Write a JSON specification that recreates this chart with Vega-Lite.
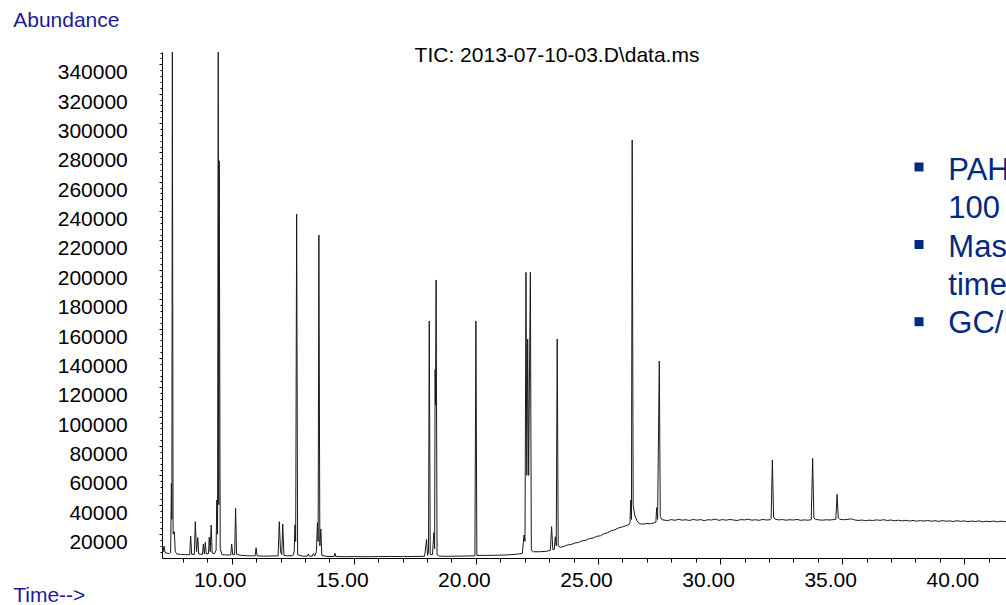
{
  "$schema": "https://vega.github.io/schema/vega-lite/v6.json",
  "width": 844,
  "height": 506,
  "autosize": {"type": "none"},
  "padding": {"left": 162, "top": 52, "right": 0, "bottom": 47},
  "background": "white",
  "config": {"view": {"stroke": null}, "font": "Liberation Sans"},
  "title": {"text": "TIC: 2013-07-10-03.D\\data.ms", "anchor": "middle", "frame": "group", "orient": "top", "baseline": "alphabetic", "offset": -73.6, "dx": -27, "font": "Liberation Sans", "fontSize": 21, "fontWeight": "normal", "color": "black"},
  "encoding": {
    "x": {"field": "t", "type": "quantitative",
      "scale": {"domain": [7.146, 41.707], "nice": false, "zero": false},
      "axis": {"values": [8,9,10,11,12,13,14,15,16,17,18,19,20,21,22,23,24,25,26,27,28,29,30,31,32,33,34,35,36,37,38,39,40,41],
        "format": ".2f", "labelExpr": "datum.value % 5 === 0 ? datum.label : ''",
        "labelFont": "Liberation Sans", "labelFontSize": 21, "labelColor": "black", "labelBaseline": "alphabetic",
        "labelPadding": 22.7, "labelOffset": -12, "labelOverlap": false, "labelFlush": false,
        "tickSize": {"condition": {"test": "datum.value % 5 === 0", "value": 6}, "value": 4},
        "tickColor": "black", "tickWidth": 1, "domainColor": "black", "domainWidth": 1, "grid": false,
        "title": "Time-->", "titleX": -149.3, "titleY": 43.7, "titleAlign": "left", "titleBaseline": "alphabetic", "titleAngle": 0,
        "titleFont": "Liberation Sans", "titleFontSize": 21, "titleFontWeight": "normal", "titleColor": "#1c1c96"}},
    "y": {"field": "a", "type": "quantitative",
      "scale": {"domain": [3740, 348370], "nice": false, "zero": false},
      "axis": {"values": [8000,12000,16000,20000,24000,28000,32000,36000,40000,44000,48000,52000,56000,60000,64000,68000,72000,76000,80000,84000,88000,92000,96000,100000,104000,108000,112000,116000,120000,124000,128000,132000,136000,140000,144000,148000,152000,156000,160000,164000,168000,172000,176000,180000,184000,188000,192000,196000,200000,204000,208000,212000,216000,220000,224000,228000,232000,236000,240000,244000,248000,252000,256000,260000,264000,268000,272000,276000,280000,284000,288000,292000,296000,300000,304000,308000,312000,316000,320000,324000,328000,332000,336000,340000,344000,348000],
        "format": "d", "labelExpr": "datum.value % 20000 === 0 ? datum.label : ''",
        "labelFont": "Liberation Sans", "labelFontSize": 21, "labelColor": "black", "labelAlign": "right", "labelBaseline": "alphabetic",
        "labelOffset": 14.5, "labelPadding": 31.7, "labelOverlap": false, "labelFlush": false,
        "tickSize": {"condition": {"test": "datum.value % 20000 === 0", "value": 3}, "value": 2},
        "tickColor": "black", "tickWidth": 1, "domainColor": "black", "domainWidth": 1, "grid": false,
        "title": "Abundance", "titleX": -149.3, "titleY": -25.3, "titleAlign": "left", "titleBaseline": "alphabetic", "titleAngle": 0,
        "titleFont": "Liberation Sans", "titleFontSize": 21, "titleFontWeight": "normal", "titleColor": "#1c1c96"}}
  },
  "layer": [
    {"data": {"values": [
      {"t":7.15,"a":9000},{"t":7.19,"a":7800},{"t":7.23,"a":11900},{"t":7.27,"a":7500},{"t":7.35,"a":7000},{"t":7.45,"a":6800},{"t":7.5,"a":7500},{"t":7.53,"a":54600},{"t":7.55,"a":30000},{"t":7.57,"a":350000},{"t":7.6,"a":20000},{"t":7.65,"a":21650},{"t":7.69,"a":8000},{"t":7.75,"a":6500},{"t":7.9,"a":6200},{"t":8.1,"a":6000},{"t":8.28,"a":6000},{"t":8.32,"a":18700},{"t":8.36,"a":6300},{"t":8.47,"a":6200},{"t":8.51,"a":28500},{"t":8.56,"a":8000},{"t":8.61,"a":17600},{"t":8.65,"a":6500},{"t":8.8,"a":6200},{"t":8.84,"a":13300},{"t":8.88,"a":6500},{"t":8.92,"a":14400},{"t":8.96,"a":6500},{"t":9.05,"a":6800},{"t":9.08,"a":17800},{"t":9.12,"a":8000},{"t":9.16,"a":26200},{"t":9.2,"a":7000},{"t":9.3,"a":6800},{"t":9.36,"a":9000},{"t":9.39,"a":43200},{"t":9.42,"a":20000},{"t":9.45,"a":350000},{"t":9.47,"a":40000},{"t":9.49,"a":274300},{"t":9.53,"a":10000},{"t":9.6,"a":6000},{"t":9.75,"a":5800},{"t":9.96,"a":5800},{"t":10.0,"a":13300},{"t":10.04,"a":6000},{"t":10.12,"a":6000},{"t":10.16,"a":37600},{"t":10.2,"a":6200},{"t":10.4,"a":5500},{"t":10.6,"a":5300},{"t":10.8,"a":5200},{"t":10.96,"a":5200},{"t":11.0,"a":10700},{"t":11.04,"a":5200},{"t":11.3,"a":5000},{"t":11.6,"a":5100},{"t":11.9,"a":5200},{"t":11.95,"a":28500},{"t":12.0,"a":8000},{"t":12.05,"a":6000},{"t":12.09,"a":26900},{"t":12.14,"a":5500},{"t":12.3,"a":5200},{"t":12.5,"a":5300},{"t":12.56,"a":8000},{"t":12.59,"a":26200},{"t":12.62,"a":15000},{"t":12.66,"a":238000},{"t":12.7,"a":6000},{"t":12.9,"a":5000},{"t":13.1,"a":5000},{"t":13.14,"a":6500},{"t":13.18,"a":5000},{"t":13.3,"a":5000},{"t":13.35,"a":6800},{"t":13.4,"a":5000},{"t":13.47,"a":8000},{"t":13.51,"a":27800},{"t":13.54,"a":15000},{"t":13.57,"a":223700},{"t":13.61,"a":12000},{"t":13.65,"a":23500},{"t":13.69,"a":5500},{"t":13.9,"a":4800},{"t":14.2,"a":4800},{"t":14.23,"a":7000},{"t":14.26,"a":4800},{"t":14.6,"a":4600},{"t":15.0,"a":4700},{"t":15.5,"a":4600},{"t":16.0,"a":4700},{"t":16.5,"a":4800},{"t":17.0,"a":4700},{"t":17.5,"a":4800},{"t":17.9,"a":4900},{"t":17.98,"a":16400},{"t":18.02,"a":5500},{"t":18.06,"a":8000},{"t":18.09,"a":165200},{"t":18.13,"a":6000},{"t":18.22,"a":6000},{"t":18.28,"a":21000},{"t":18.31,"a":10000},{"t":18.33,"a":132000},{"t":18.345,"a":108000},{"t":18.37,"a":193100},{"t":18.41,"a":6000},{"t":18.5,"a":5000},{"t":18.8,"a":4900},{"t":19.2,"a":5000},{"t":19.6,"a":5100},{"t":19.96,"a":5200},{"t":20.0,"a":165200},{"t":20.04,"a":5500},{"t":20.4,"a":5500},{"t":20.8,"a":5600},{"t":21.2,"a":5800},{"t":21.6,"a":6200},{"t":21.9,"a":6800},{"t":21.97,"a":19400},{"t":22.01,"a":15000},{"t":22.05,"a":198300},{"t":22.085,"a":60000},{"t":22.12,"a":152900},{"t":22.16,"a":60000},{"t":22.23,"a":198300},{"t":22.27,"a":9000},{"t":22.35,"a":8000},{"t":22.6,"a":8000},{"t":22.9,"a":8300},{"t":23.05,"a":9000},{"t":23.1,"a":25100},{"t":23.15,"a":9500},{"t":23.21,"a":9500},{"t":23.25,"a":18200},{"t":23.29,"a":12000},{"t":23.33,"a":152900},{"t":23.37,"a":12000},{"t":23.45,"a":11000},{"t":23.6,"a":11600},{"t":23.75,"a":12600},{"t":23.9,"a":12900},{"t":24.05,"a":14000},{"t":24.2,"a":14300},{"t":24.35,"a":15400},{"t":24.5,"a":15800},{"t":24.65,"a":17000},{"t":24.8,"a":17300},{"t":24.95,"a":18500},{"t":25.1,"a":18900},{"t":25.25,"a":20300},{"t":25.4,"a":21000},{"t":25.55,"a":22400},{"t":25.7,"a":23000},{"t":25.85,"a":24300},{"t":26.0,"a":24900},{"t":26.15,"a":25800},{"t":26.28,"a":26500},{"t":26.31,"a":28000},{"t":26.34,"a":43200},{"t":26.37,"a":30000},{"t":26.4,"a":288400},{"t":26.44,"a":40000},{"t":26.5,"a":33000},{"t":26.6,"a":29000},{"t":26.7,"a":27000},{"t":26.85,"a":26800},{"t":27.0,"a":27300},{"t":27.15,"a":27000},{"t":27.3,"a":27700},{"t":27.37,"a":28000},{"t":27.4,"a":38000},{"t":27.44,"a":30000},{"t":27.51,"a":137900},{"t":27.55,"a":32000},{"t":27.62,"a":29800},{"t":27.7,"a":29600},{"t":27.85,"a":29200},{"t":28.0,"a":29900},{"t":28.15,"a":29400},{"t":28.3,"a":30100},{"t":28.45,"a":29500},{"t":28.6,"a":29800},{"t":28.75,"a":29300},{"t":28.9,"a":30000},{"t":29.05,"a":29500},{"t":29.2,"a":29900},{"t":29.35,"a":29200},{"t":29.5,"a":29800},{"t":29.65,"a":29600},{"t":29.8,"a":30200},{"t":29.95,"a":29400},{"t":30.1,"a":29900},{"t":30.25,"a":29500},{"t":30.4,"a":30000},{"t":30.55,"a":29600},{"t":30.7,"a":29300},{"t":30.85,"a":29900},{"t":31.0,"a":29700},{"t":31.15,"a":30100},{"t":31.3,"a":29500},{"t":31.45,"a":29800},{"t":31.6,"a":29400},{"t":31.75,"a":30000},{"t":31.9,"a":29600},{"t":32.05,"a":29800},{"t":32.09,"a":30500},{"t":32.14,"a":70500},{"t":32.19,"a":31500},{"t":32.25,"a":30200},{"t":32.4,"a":29700},{"t":32.55,"a":29900},{"t":32.7,"a":29500},{"t":32.85,"a":29800},{"t":33.0,"a":29600},{"t":33.15,"a":30000},{"t":33.3,"a":29400},{"t":33.45,"a":29700},{"t":33.6,"a":29500},{"t":33.73,"a":29800},{"t":33.79,"a":71600},{"t":33.84,"a":31000},{"t":33.9,"a":30000},{"t":34.05,"a":29700},{"t":34.2,"a":29500},{"t":34.35,"a":29800},{"t":34.5,"a":29600},{"t":34.65,"a":29900},{"t":34.74,"a":30100},{"t":34.79,"a":47100},{"t":34.84,"a":31000},{"t":34.9,"a":30200},{"t":35.05,"a":29800},{"t":35.2,"a":30000},{"t":35.38,"a":30400},{"t":35.5,"a":29700},{"t":35.65,"a":29300},{"t":35.8,"a":29600},{"t":35.95,"a":29200},{"t":36.1,"a":29500},{"t":36.25,"a":29300},{"t":36.4,"a":29700},{"t":36.55,"a":29400},{"t":36.7,"a":29800},{"t":36.85,"a":29300},{"t":37.0,"a":29600},{"t":37.15,"a":29100},{"t":37.3,"a":29500},{"t":37.45,"a":29000},{"t":37.6,"a":29400},{"t":37.75,"a":28900},{"t":37.9,"a":29300},{"t":38.05,"a":28800},{"t":38.2,"a":29200},{"t":38.35,"a":28900},{"t":38.5,"a":29300},{"t":38.65,"a":28800},{"t":38.8,"a":29100},{"t":38.95,"a":28700},{"t":39.1,"a":29200},{"t":39.25,"a":28800},{"t":39.4,"a":29000},{"t":39.55,"a":28600},{"t":39.7,"a":29100},{"t":39.85,"a":28700},{"t":40.0,"a":29000},{"t":40.15,"a":28500},{"t":40.3,"a":28900},{"t":40.45,"a":28600},{"t":40.6,"a":29000},{"t":40.75,"a":28400},{"t":40.9,"a":28800},{"t":41.05,"a":28500},{"t":41.2,"a":28900},{"t":41.35,"a":28400},{"t":41.5,"a":28800},{"t":41.65,"a":28500},{"t":41.8,"a":28700}
    ]},
     "mark": {"type": "line", "clip": true, "stroke": "#1a1a1a", "strokeWidth": 1}},
    {"data": {"values": [
      {"t": 38.145, "a": 270050}, {"t": 38.145, "a": 217260}, {"t": 38.145, "a": 164680}
    ]},
     "mark": {"type": "point", "shape": "square", "filled": true, "size": 81, "color": "#002a80", "opacity": 1, "strokeWidth": 0, "clip": true}},
    {"data": {"values": [
      {"t": 39.345, "a": 261190, "label": "PAHs"},
      {"t": 39.345, "a": 235110, "label": "100"},
      {"t": 39.345, "a": 208950, "label": "Mass"},
      {"t": 39.345, "a": 182870, "label": "time"},
      {"t": 39.345, "a": 156715, "label": "GC/MS"}
    ]},
     "mark": {"type": "text", "align": "left", "baseline": "alphabetic", "font": "Liberation Sans", "fontSize": 31, "color": "#002a80", "clip": true},
     "encoding": {"text": {"field": "label"}}}
  ]
}
